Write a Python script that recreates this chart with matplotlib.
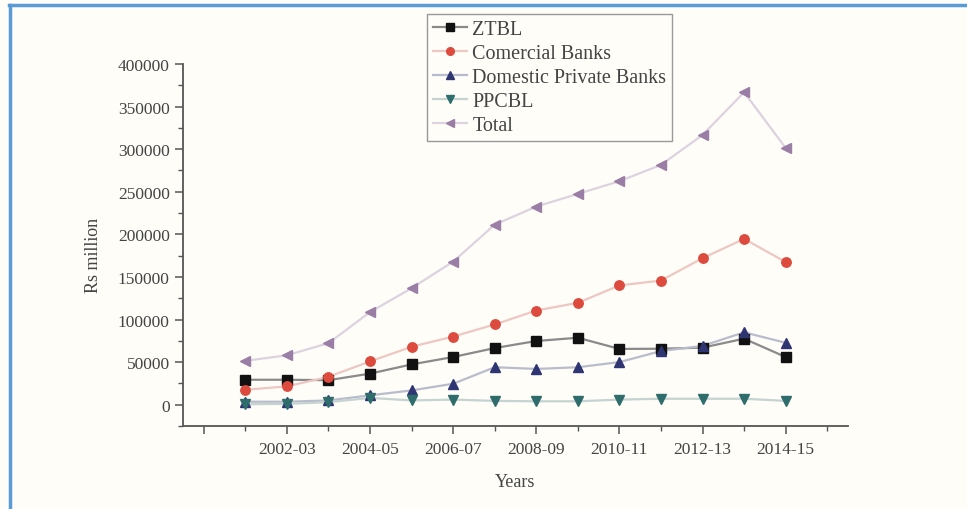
import matplotlib
matplotlib.use("Agg")
import matplotlib.pyplot as plt
from matplotlib.lines import Line2D
from matplotlib.ticker import FixedLocator, MultipleLocator

years = ["2001-02", "2002-03", "2003-04", "2004-05", "2005-06", "2006-07", "2007-08",
         "2008-09", "2009-10", "2010-11", "2011-12", "2012-13", "2013-14", "2014-15"]
ztbl = [29300, 29300, 28800, 36500, 47300, 56000, 66500, 74800, 78600, 65500, 65700, 67000, 77500, 56000]
commercial = [17600, 21500, 32800, 50800, 68000, 80000, 94200, 110600, 119600, 140000, 145800, 172000, 194700, 167500]
domestic_private = [3500, 3500, 5000, 11000, 16800, 24600, 44000, 42000, 44000, 50000, 63000, 69000, 85000, 72700]
ppcbl = [500, 1000, 3000, 8000, 5000, 6000, 4500, 4000, 4000, 6000, 7000, 7000, 7000, 4500]
total = [51500, 58000, 72300, 108700, 136800, 168000, 211400, 232600, 247500, 262400, 281500, 316700, 366800, 301500]
labelled_ticks = ["", "2002-03", "2004-05", "2006-07", "2008-09", "2010-11", "2012-13", "2014-15"]

plt.rcParams['font.family'] = ['Liberation Serif', 'DejaVu Serif']

fig = plt.figure(figsize=(9.67, 5.10), dpi=100)
fig.patch.set_facecolor('#fefdf8')
ax = fig.add_axes([183/967, 1-427/510, (848-183)/967, (427-65)/510])
ax.set_facecolor('#fefdf8')

x = list(range(len(years)))
series = [
    ("ZTBL", ztbl, 's', '#111111', '#8a8a8a'),
    ("Comercial Banks", commercial, 'o', '#dc4b3e', '#efc7c2'),
    ("Domestic Private Banks", domestic_private, '^', '#2f3572', '#b9bccb'),
    ("PPCBL", ppcbl, 'v', '#2e6d6c', '#c5d3d2'),
    ("Total", total, '<', '#9a7ea6', '#ddd2df'),
]
handles = []
for name, vals, mk, mc, lc in series:
    ax.plot(x, vals, color=lc, lw=1.6, zorder=2)
    ax.plot(x, vals, ls='none', marker=mk, ms=6.8, mfc=mc, mec=mc, zorder=3)
    handles.append(Line2D([], [], color=lc, lw=1.6, marker=mk, ms=5.5, mfc=mc, mec=mc))

ax.set_xlim(-1.5, 14.5)
ax.set_ylim(-25000, 400000)
ax.xaxis.set_major_locator(FixedLocator(list(range(-1, 14, 2))))
ax.set_xticklabels(labelled_ticks)
ax.xaxis.set_minor_locator(FixedLocator(list(range(0, 15, 2))))
ax.yaxis.set_major_locator(MultipleLocator(50000))
ax.yaxis.set_minor_locator(MultipleLocator(25000))
ax.set_yticks(range(0, 400001, 50000))
ax.set_yticklabels([str(v) for v in range(0, 400001, 50000)])

for s in ['top', 'right']:
    ax.spines[s].set_visible(False)
for s in ['left', 'bottom']:
    ax.spines[s].set_color('#555555')
    ax.spines[s].set_linewidth(1.3)
ax.tick_params(which='major', direction='out', length=6, width=1.1, color='#555555',
               labelsize=12.5, labelcolor='#444444')
ax.tick_params(which='minor', direction='out', length=3.5, width=1.0, color='#555555')
ax.tick_params(axis='x', which='major', pad=5)

ax.set_xlabel("Years", fontsize=13, color='#444444', labelpad=11)
ax.set_ylabel("Rs million", fontsize=13, color='#444444', labelpad=12)
ax.yaxis.set_label_coords(-0.122, 0.475)

leg = fig.legend(handles, [s[0] for s in series], loc='upper left',
                 bbox_to_anchor=(427/967, 1-15/510), fontsize=14.5, frameon=True,
                 fancybox=False, edgecolor='#999999', framealpha=1, facecolor='#fefdf8',
                 handlelength=1.7, handletextpad=0.25, labelspacing=0.24, borderpad=0.3,
                 borderaxespad=0)
for t in leg.get_texts():
    t.set_color('#444444')

# blue frame around the figure (top and left edges visible)
fig.add_artist(Line2D([9/967, 1.0], [1-6/510, 1-6/510], color='#5b9bd5', lw=2.5,
                      transform=fig.transFigure))
fig.add_artist(Line2D([10/967, 10/967], [0, 1-6/510], color='#5b9bd5', lw=2.5,
                      transform=fig.transFigure))

fig.savefig("out.png", dpi=100, facecolor=fig.get_facecolor())
